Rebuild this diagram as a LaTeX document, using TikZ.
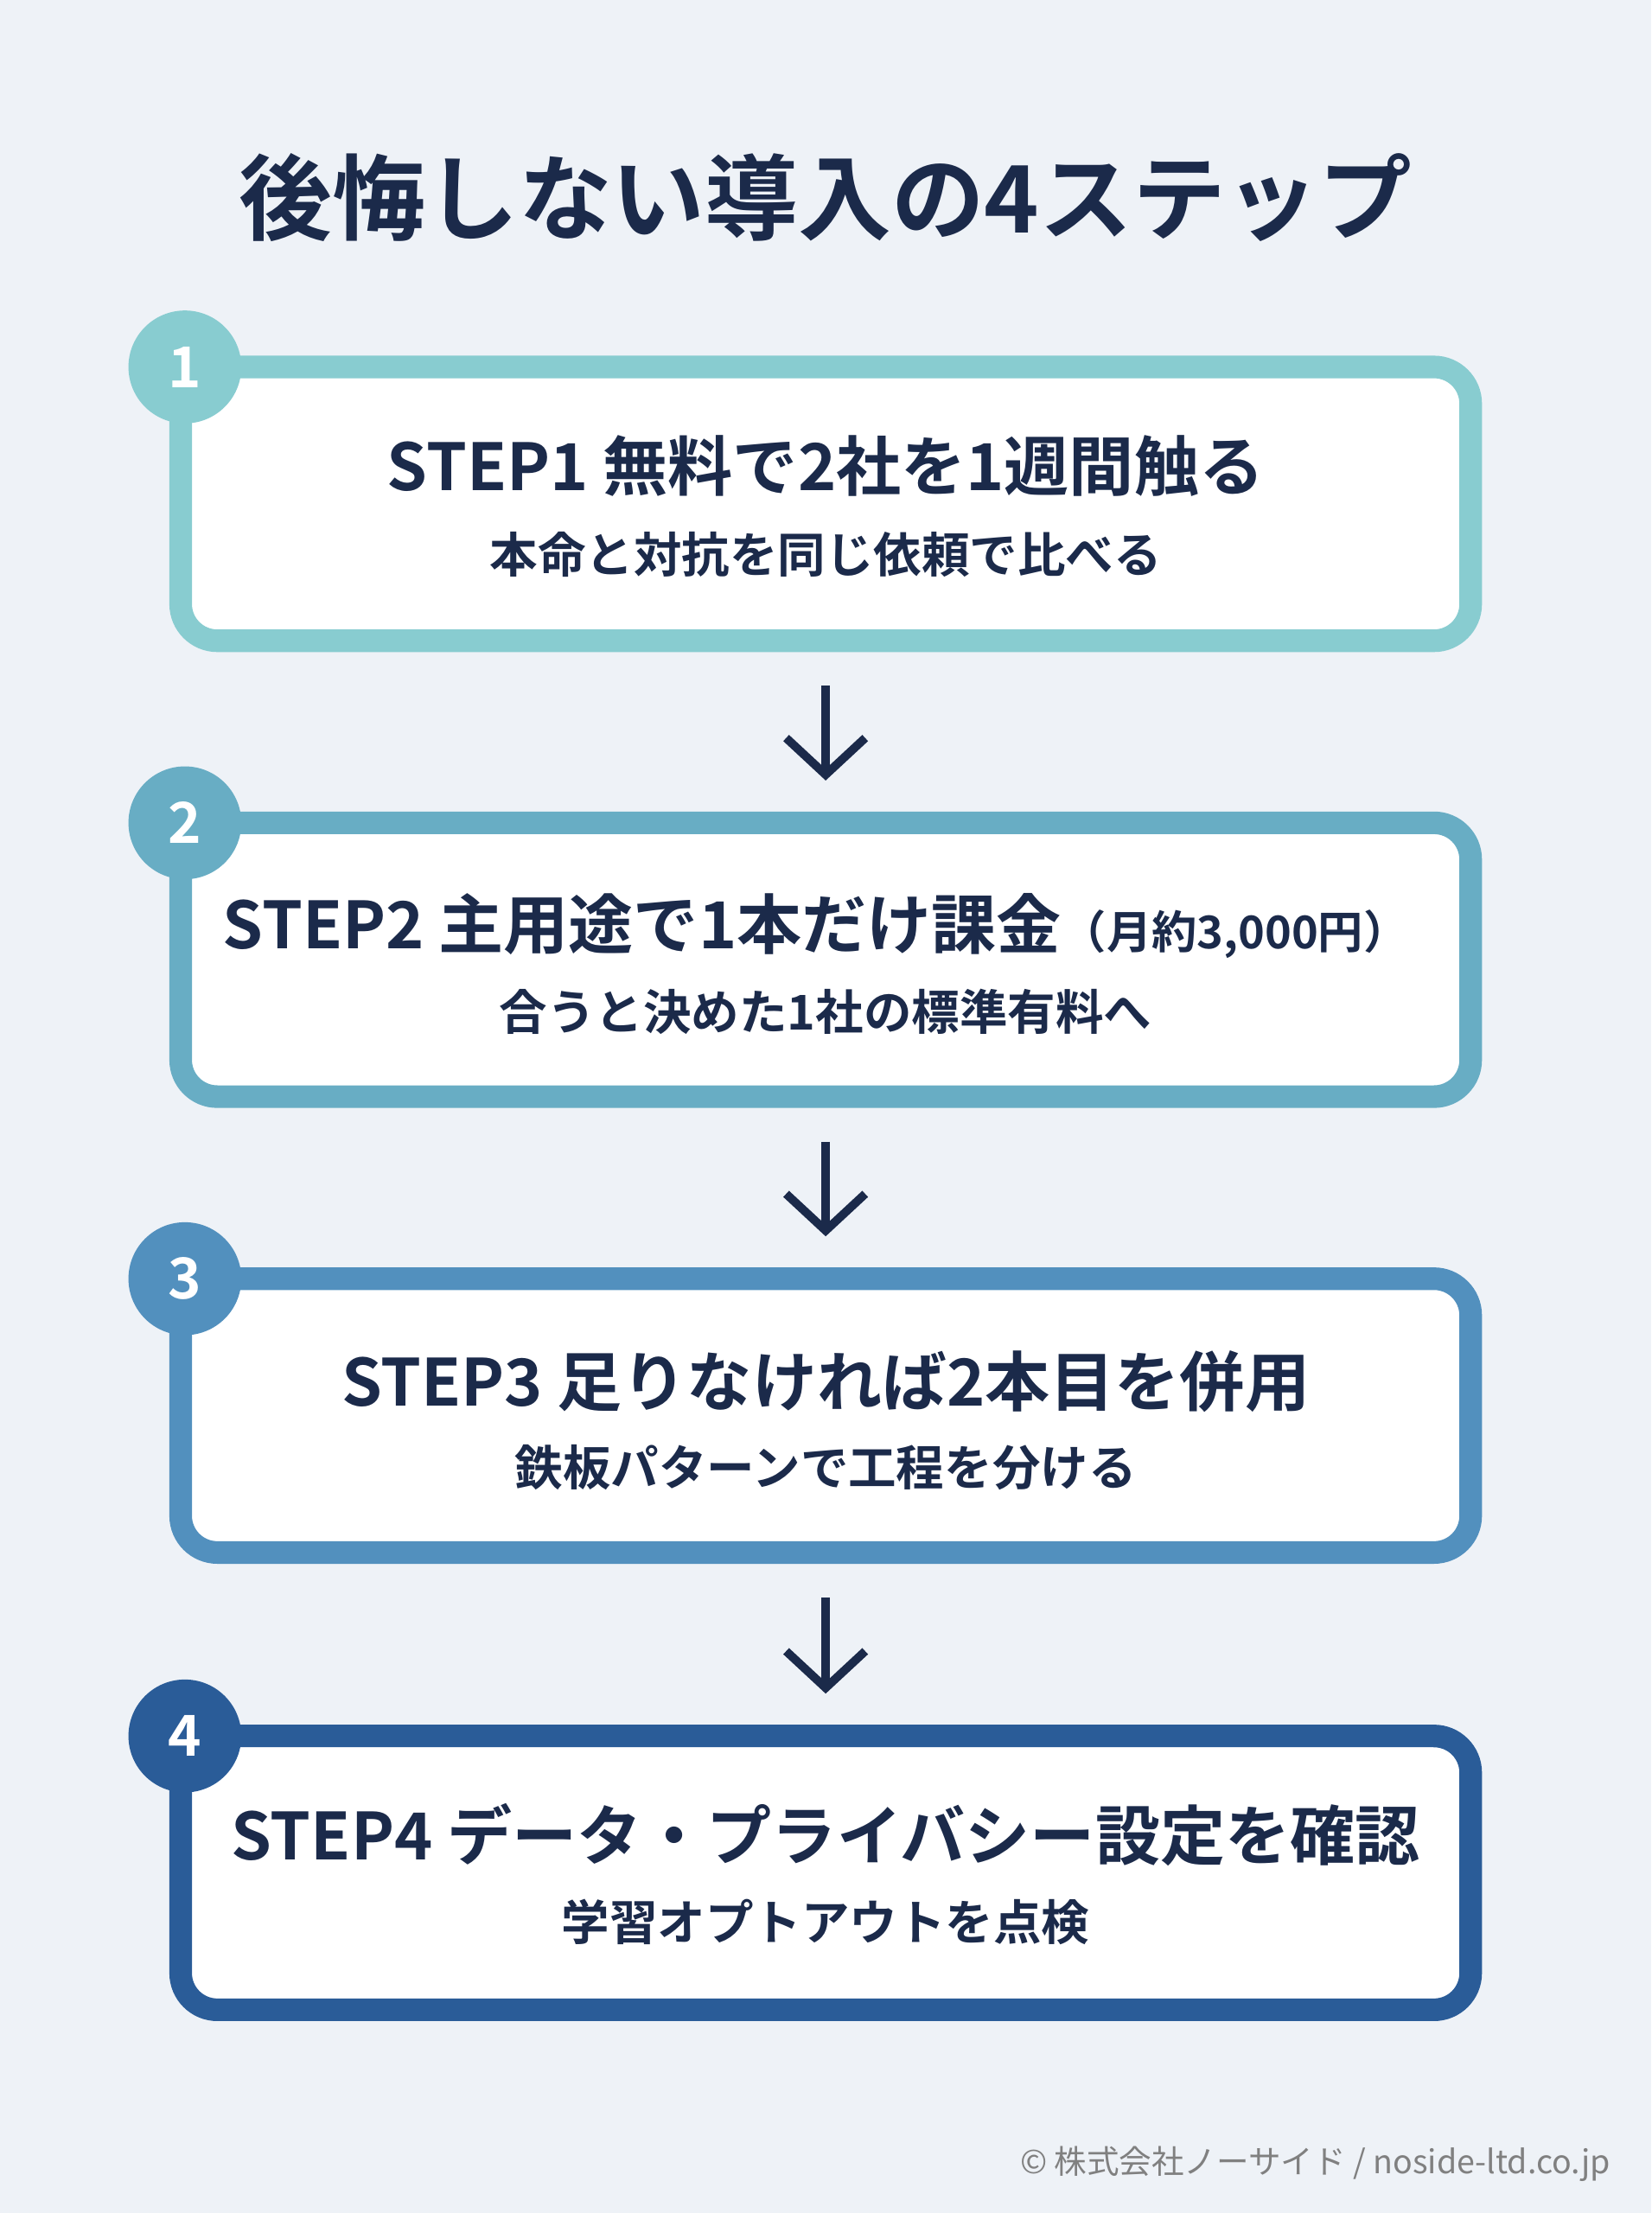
\documentclass[tikz,border=0pt]{standalone}
\usepackage{fontspec}
\usetikzlibrary{arrows.meta}
\newfontfamily\jp{Noto Sans CJK JP}[BoldFont={Noto Sans CJK JP Bold}]
\definecolor{bg}{HTML}{EEF2F7}
\definecolor{ink}{HTML}{1B2A4A}
\definecolor{cA}{HTML}{88CCD0}
\definecolor{cB}{HTML}{68ADC4}
\definecolor{cC}{HTML}{5290BE}
\definecolor{cD}{HTML}{2A5C98}
\begin{document}
\begin{tikzpicture}[x=0.5pt,y=-0.5pt,font=\jp\bfseries,
  box/.style={draw=#1,fill=white,line width=8pt,rounded corners=13pt,minimum width=457pt,minimum height=97pt},
  num/.style={circle,fill=#1,minimum size=40pt,inner sep=0pt,text=white,font=\jp\bfseries\fontsize{20}{20}\selectfont},
  ttl/.style={text=ink,font=\jp\bfseries\fontsize{23}{26}\selectfont},
  sub/.style={text=ink,font=\jp\bfseries\fontsize{17}{20}\selectfont},
  arr/.style={draw=ink,line width=3pt,-{Straight Barb[length=13pt,width=28pt,line width=3pt]},shorten <=12pt,shorten >=11pt}]
\fill[bg] (0,0) rectangle (1170,1568);
\node[text=ink,font=\jp\bfseries\fontsize{33}{36}\selectfont] (title) at (585,140) {後悔しない導入の4ステップ};
\node[box=cA] (b1) at (585,357) {};
\node[box=cB] (b2) at (585,680) {};
\node[box=cC] (b3) at (585,1003) {};
\node[box=cD] (b4) at (585,1327) {};
\node[num=cA] (n1) at (131,260) {1};
\node[num=cB] (n2) at (131,583) {2};
\node[num=cC] (n3) at (131,906) {3};
\node[num=cD] (n4) at (131,1230) {4};
\node[ttl] (t1) at (585,330) {STEP1 無料で2社を1週間触る};
\node[sub] (s1) at (585,393) {本命と対抗を同じ依頼で比べる};
\node[ttl] (t2) at (578,656) {STEP2 主用途で1本だけ課金{\fontsize{16}{18}\selectfont（月約3,000円）}};
\node[sub] (s2) at (585,717) {合うと決めた1社の標準有料へ};
\node[ttl] (t3) at (585,979) {STEP3 足りなければ2本目を併用};
\node[sub] (s3) at (585,1040) {鉄板パターンで工程を分ける};
\node[ttl] (t4) at (585,1300) {STEP4 データ・プライバシー設定を確認};
\node[sub] (s4) at (585,1362) {学習オプトアウトを点検};
\draw[arr] (b1.south) -- (b2.north);
\draw[arr] (b2.south) -- (b3.north);
\draw[arr] (b3.south) -- (b4.north);
\node[anchor=east,text=gray,font=\jp\fontsize{11.5}{13}\selectfont] (foot) at (1148,1533) {© 株式会社ノーサイド / noside-ltd.co.jp};
\end{tikzpicture}
\end{document}
